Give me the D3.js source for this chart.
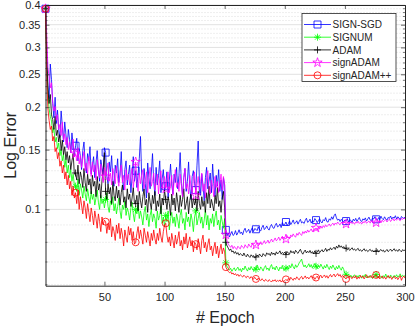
<!DOCTYPE html>
<html>
<head>
<meta charset="utf-8">
<script src="https://cdn.jsdelivr.net/npm/d3@7"></script>
<style>
  body { margin: 0; background: #fff; }
  text { font-family: "Liberation Sans", Arial, sans-serif; fill: #262626; }
</style>
</head>
<body>
<div id="chart"></div>
<script>
// Log error per epoch (1..300)
const signSGD = [
  0.390,0.300,0.232,0.212,0.268,0.241,0.205,0.186,0.214,0.179,
  0.196,0.171,0.163,0.195,0.176,0.158,0.181,0.166,0.152,0.172,
  0.161,0.147,0.168,0.155,0.143,0.154,0.162,0.139,0.151,0.144,
  0.131,0.149,0.158,0.136,0.128,0.146,0.139,0.153,0.127,0.135,
  0.143,0.124,0.137,0.149,0.131,0.121,0.140,0.133,0.126,0.152,
  0.147,0.125,0.119,0.138,0.129,0.144,0.122,0.117,0.135,0.128,
  0.141,0.120,0.126,0.148,0.123,0.114,0.131,0.139,0.118,0.127,
  0.135,0.112,0.124,0.143,0.121,0.130,0.116,0.127,0.141,0.164,
  0.126,0.113,0.132,0.119,0.108,0.137,0.124,0.115,0.128,0.146,
  0.121,0.110,0.133,0.118,0.126,0.139,0.112,0.123,0.131,0.114,
  0.117,0.129,0.108,0.122,0.136,0.118,0.111,0.127,0.120,0.133,
  0.115,0.126,0.147,0.119,0.109,0.124,0.132,0.113,0.121,0.138,
  0.116,0.107,0.125,0.130,0.119,0.114,0.135,0.159,0.122,0.110,
  0.127,0.118,0.106,0.124,0.133,0.115,0.121,0.128,0.112,0.136,
  0.119,0.109,0.126,0.117,0.131,0.113,0.122,0.107,0.124,0.118,
  0.0870,0.0835,0.0852,0.0829,0.0846,0.0861,0.0838,0.0844,0.0866,0.0840,
  0.0853,0.0871,0.0849,0.0858,0.0842,0.0867,0.0880,0.0856,0.0862,0.0874,
  0.0851,0.0869,0.0883,0.0860,0.0878,0.0874,0.0866,0.0889,0.0871,0.0864,
  0.0885,0.0898,0.0872,0.0880,0.0894,0.0877,0.0869,0.0891,0.0903,0.0884,
  0.0879,0.0897,0.0910,0.0888,0.0893,0.0906,0.0884,0.0915,0.0899,0.0903,
  0.0918,0.0896,0.0908,0.0924,0.0902,0.0915,0.0931,0.0907,0.0913,0.0926,
  0.0905,0.0921,0.0935,0.0912,0.0919,0.0909,0.0928,0.0942,0.0916,0.0922,
  0.0936,0.0911,0.0925,0.0918,0.0940,0.0930,0.0914,0.0927,0.0939,0.0920,
  0.0912,0.0933,0.0925,0.0946,0.0921,0.0917,0.0938,0.0929,0.0951,0.0935,
  0.0958,0.0970,0.0944,0.0929,0.0937,0.0921,0.0935,0.0926,0.0919,0.0931,
  0.0924,0.0940,0.0917,0.0932,0.0928,0.0915,0.0936,0.0925,0.0941,0.0922,
  0.0934,0.0947,0.0926,0.0921,0.0938,0.0930,0.0944,0.0924,0.0936,0.0949,
  0.0931,0.0925,0.0943,0.0937,0.0952,0.0935,0.0928,0.0946,0.0933,0.0955,
  0.0940,0.0932,0.0951,0.0938,0.0929,0.0947,0.0941,0.0956,0.0936,0.0949,
  0.0942,0.0958,0.0937,0.0951,0.0944,0.0931,0.0953,0.0946,0.0940,0.0950
];
const signum = [
  0.390,0.275,0.220,0.198,0.188,0.182,0.168,0.174,0.158,0.163,
  0.151,0.157,0.144,0.150,0.139,0.145,0.133,0.140,0.128,0.135,
  0.124,0.131,0.121,0.127,0.118,0.117,0.113,0.123,0.110,0.119,
  0.114,0.108,0.117,0.111,0.106,0.115,0.109,0.104,0.113,0.107,
  0.111,0.103,0.108,0.114,0.105,0.100,0.110,0.104,0.107,0.101,
  0.107,0.112,0.102,0.098,0.106,0.103,0.109,0.099,0.104,0.097,
  0.102,0.108,0.099,0.094,0.103,0.100,0.106,0.096,0.101,0.098,
  0.093,0.101,0.105,0.097,0.092,0.100,0.097,0.103,0.094,0.099,
  0.095,0.090,0.098,0.102,0.093,0.097,0.089,0.096,0.100,0.092,
  0.097,0.094,0.088,0.099,0.093,0.096,0.102,0.091,0.095,0.089,
  0.096,0.092,0.099,0.087,0.094,0.098,0.091,0.095,0.089,0.097,
  0.093,0.088,0.096,0.100,0.091,0.094,0.087,0.098,0.092,0.095,
  0.089,0.097,0.093,0.086,0.095,0.099,0.090,0.094,0.098,0.091,
  0.095,0.088,0.093,0.100,0.090,0.096,0.087,0.094,0.091,0.097,
  0.089,0.095,0.099,0.090,0.093,0.087,0.096,0.092,0.088,0.094,
  0.0696,0.0679,0.0670,0.0662,0.0671,0.0657,0.0666,0.0673,0.0659,0.0668,
  0.0676,0.0661,0.0669,0.0655,0.0672,0.0664,0.0681,0.0667,0.0658,0.0674,
  0.0663,0.0679,0.0668,0.0660,0.0675,0.0666,0.0686,0.0671,0.0662,0.0677,
  0.0669,0.0658,0.0674,0.0683,0.0665,0.0672,0.0660,0.0678,0.0688,0.0667,
  0.0675,0.0663,0.0681,0.0670,0.0659,0.0676,0.0668,0.0684,0.0664,0.0662,
  0.0671,0.0679,0.0666,0.0684,0.0673,0.0692,0.0678,0.0668,0.0687,0.0675,
  0.0683,0.0696,0.0704,0.0714,0.0690,0.0677,0.0686,0.0673,0.0681,0.0692,
  0.0676,0.0688,0.0671,0.0684,0.0693,0.0680,0.0669,0.0685,0.0674,0.0690,
  0.0678,0.0667,0.0683,0.0672,0.0689,0.0676,0.0665,0.0681,0.0670,0.0686,
  0.0674,0.0663,0.0679,0.0668,0.0684,0.0671,0.0662,0.0677,0.0666,0.0648,
  0.0644,0.0637,0.0643,0.0632,0.0640,0.0629,0.0636,0.0642,0.0631,0.0638,
  0.0630,0.0641,0.0634,0.0627,0.0639,0.0633,0.0644,0.0628,0.0636,0.0631,
  0.0640,0.0632,0.0626,0.0637,0.0631,0.0643,0.0635,0.0628,0.0639,0.0633,
  0.0627,0.0638,0.0632,0.0645,0.0630,0.0636,0.0629,0.0641,0.0634,0.0628,
  0.0639,0.0633,0.0642,0.0631,0.0637,0.0646,0.0632,0.0640,0.0635,0.0638
];
const adam = [
  0.390,0.285,0.226,0.205,0.218,0.190,0.184,0.172,0.188,0.165,
  0.171,0.158,0.166,0.149,0.160,0.145,0.153,0.140,0.148,0.137,
  0.144,0.131,0.139,0.146,0.127,0.128,0.122,0.135,0.119,0.129,
  0.124,0.116,0.132,0.120,0.113,0.127,0.118,0.123,0.111,0.126,
  0.117,0.121,0.109,0.125,0.114,0.119,0.108,0.122,0.131,0.147,
  0.113,0.107,0.119,0.111,0.116,0.104,0.121,0.110,0.106,0.117,
  0.108,0.114,0.103,0.112,0.118,0.105,0.109,0.101,0.115,0.107,
  0.111,0.102,0.108,0.116,0.104,0.104,0.110,0.099,0.113,0.106,
  0.101,0.109,0.115,0.103,0.107,0.098,0.112,0.105,0.100,0.110,
  0.104,0.113,0.099,0.106,0.102,0.111,0.097,0.108,0.103,0.114,
  0.107,0.100,0.109,0.104,0.096,0.111,0.103,0.108,0.099,0.112,
  0.105,0.098,0.110,0.102,0.107,0.115,0.100,0.104,0.109,0.097,
  0.106,0.111,0.101,0.108,0.103,0.107,0.099,0.113,0.104,0.100,
  0.109,0.102,0.106,0.098,0.112,0.104,0.117,0.101,0.107,0.103,
  0.099,0.110,0.104,0.116,0.102,0.106,0.098,0.108,0.113,0.101,
  0.0800,0.0781,0.0769,0.0757,0.0765,0.0749,0.0755,0.0742,0.0751,0.0738,
  0.0746,0.0733,0.0741,0.0736,0.0729,0.0744,0.0731,0.0725,0.0738,0.0728,
  0.0722,0.0735,0.0727,0.0731,0.0720,0.0724,0.0734,0.0726,0.0739,0.0730,
  0.0725,0.0741,0.0733,0.0728,0.0745,0.0736,0.0742,0.0731,0.0748,0.0737,
  0.0744,0.0733,0.0750,0.0739,0.0746,0.0755,0.0738,0.0747,0.0741,0.0749,
  0.0736,0.0751,0.0743,0.0739,0.0756,0.0745,0.0752,0.0740,0.0758,0.0748,
  0.0742,0.0754,0.0763,0.0747,0.0738,0.0750,0.0759,0.0744,0.0753,0.0746,
  0.0757,0.0743,0.0751,0.0740,0.0755,0.0742,0.0748,0.0760,0.0746,0.0754,
  0.0761,0.0749,0.0757,0.0768,0.0752,0.0763,0.0758,0.0771,0.0760,0.0767,
  0.0774,0.0762,0.0779,0.0769,0.0786,0.0773,0.0781,0.0770,0.0777,0.0765,
  0.0769,0.0760,0.0766,0.0757,0.0764,0.0771,0.0759,0.0765,0.0756,0.0762,
  0.0768,0.0755,0.0761,0.0752,0.0759,0.0766,0.0754,0.0760,0.0751,0.0757,
  0.0763,0.0753,0.0758,0.0749,0.0757,0.0752,0.0761,0.0750,0.0756,0.0762,
  0.0753,0.0759,0.0748,0.0755,0.0762,0.0751,0.0757,0.0764,0.0753,0.0758,
  0.0766,0.0754,0.0760,0.0752,0.0763,0.0757,0.0750,0.0761,0.0756,0.0759
];
const signAdam = [
  0.390,0.330,0.262,0.246,0.228,0.236,0.207,0.195,0.201,0.183,
  0.190,0.172,0.178,0.165,0.181,0.160,0.167,0.155,0.163,0.150,
  0.158,0.147,0.154,0.161,0.143,0.146,0.139,0.152,0.136,0.144,
  0.133,0.141,0.148,0.130,0.137,0.127,0.143,0.134,0.125,0.138,
  0.129,0.135,0.122,0.140,0.131,0.124,0.136,0.128,0.120,0.133,
  0.125,0.130,0.137,0.121,0.128,0.118,0.132,0.126,0.119,0.134,
  0.123,0.117,0.129,0.135,0.120,0.126,0.114,0.131,0.122,0.127,
  0.118,0.125,0.132,0.116,0.124,0.138,0.121,0.113,0.128,0.119,
  0.126,0.131,0.115,0.122,0.129,0.112,0.124,0.133,0.117,0.121,
  0.128,0.114,0.120,0.127,0.111,0.123,0.130,0.116,0.119,0.125,
  0.115,0.122,0.129,0.112,0.118,0.126,0.110,0.121,0.131,0.116,
  0.120,0.113,0.127,0.118,0.109,0.124,0.132,0.115,0.119,0.111,
  0.126,0.117,0.112,0.123,0.129,0.110,0.118,0.125,0.114,0.121,
  0.128,0.113,0.119,0.108,0.124,0.130,0.115,0.111,0.122,0.117,
  0.109,0.125,0.116,0.121,0.112,0.119,0.127,0.114,0.125,0.118,
  0.0842,0.0808,0.0790,0.0781,0.0773,0.0784,0.0766,0.0778,0.0770,0.0762,
  0.0779,0.0771,0.0765,0.0783,0.0774,0.0768,0.0787,0.0776,0.0770,0.0791,
  0.0780,0.0773,0.0794,0.0785,0.0778,0.0786,0.0798,0.0781,0.0792,0.0803,
  0.0787,0.0796,0.0809,0.0793,0.0800,0.0812,0.0795,0.0806,0.0818,0.0802,
  0.0811,0.0824,0.0808,0.0816,0.0829,0.0810,0.0821,0.0834,0.0815,0.0823,
  0.0818,0.0837,0.0826,0.0820,0.0841,0.0830,0.0847,0.0835,0.0828,0.0850,
  0.0839,0.0856,0.0845,0.0838,0.0860,0.0849,0.0863,0.0852,0.0870,0.0857,
  0.0866,0.0876,0.0860,0.0871,0.0870,0.0882,0.0868,0.0887,0.0875,0.0893,
  0.0880,0.0896,0.0885,0.0901,0.0889,0.0897,0.0906,0.0892,0.0903,0.0911,
  0.0898,0.0912,0.0904,0.0918,0.0907,0.0901,0.0915,0.0909,0.0920,0.0918,
  0.0906,0.0917,0.0902,0.0913,0.0921,0.0908,0.0916,0.0904,0.0919,0.0911,
  0.0923,0.0909,0.0917,0.0905,0.0920,0.0913,0.0926,0.0910,0.0918,0.0924,
  0.0911,0.0927,0.0916,0.0908,0.0922,0.0914,0.0929,0.0917,0.0925,0.0912,
  0.0930,0.0919,0.0926,0.0934,0.0918,0.0928,0.0936,0.0921,0.0931,0.0939,
  0.0925,0.0937,0.0929,0.0942,0.0933,0.0926,0.0940,0.0935,0.0944,0.0937
];
const signAdamPP = [
  0.390,0.245,0.198,0.183,0.172,0.176,0.159,0.164,0.148,0.152,
  0.141,0.147,0.134,0.139,0.128,0.135,0.123,0.129,0.118,0.126,
  0.115,0.121,0.110,0.117,0.108,0.112,0.104,0.114,0.100,0.109,
  0.103,0.097,0.106,0.101,0.094,0.104,0.098,0.092,0.101,0.096,
  0.090,0.099,0.094,0.088,0.097,0.092,0.086,0.095,0.090,0.093,
  0.092,0.085,0.091,0.087,0.094,0.083,0.089,0.086,0.081,0.090,
  0.085,0.091,0.082,0.088,0.084,0.078,0.087,0.083,0.080,0.089,
  0.084,0.088,0.081,0.086,0.079,0.080,0.085,0.089,0.082,0.087,
  0.083,0.079,0.088,0.084,0.080,0.086,0.082,0.078,0.085,0.081,
  0.087,0.082,0.079,0.085,0.081,0.088,0.083,0.080,0.086,0.090,
  0.091,0.084,0.080,0.083,0.078,0.085,0.081,0.077,0.084,0.079,
  0.082,0.086,0.078,0.081,0.076,0.083,0.079,0.085,0.077,0.080,
  0.083,0.078,0.081,0.075,0.080,0.079,0.076,0.082,0.078,0.074,
  0.081,0.084,0.077,0.080,0.075,0.079,0.082,0.076,0.078,0.073,
  0.077,0.080,0.074,0.078,0.072,0.076,0.079,0.074,0.077,0.075,
  0.0676,0.0665,0.0657,0.0651,0.0655,0.0645,0.0650,0.0641,0.0647,0.0638,
  0.0644,0.0635,0.0642,0.0637,0.0632,0.0640,0.0634,0.0629,0.0637,0.0631,
  0.0626,0.0634,0.0628,0.0623,0.0631,0.0624,0.0619,0.0628,0.0622,0.0617,
  0.0625,0.0620,0.0614,0.0622,0.0618,0.0613,0.0621,0.0616,0.0611,0.0619,
  0.0615,0.0621,0.0612,0.0618,0.0614,0.0620,0.0611,0.0617,0.0613,0.0617,
  0.0622,0.0616,0.0626,0.0619,0.0631,0.0624,0.0618,0.0628,0.0622,0.0633,
  0.0625,0.0620,0.0630,0.0635,0.0623,0.0629,0.0637,0.0626,0.0632,0.0624,
  0.0631,0.0638,0.0627,0.0633,0.0622,0.0630,0.0636,0.0625,0.0634,0.0640,
  0.0628,0.0635,0.0641,0.0630,0.0638,0.0627,0.0636,0.0643,0.0632,0.0639,
  0.0645,0.0633,0.0640,0.0647,0.0636,0.0643,0.0631,0.0639,0.0634,0.0628,
  0.0624,0.0633,0.0627,0.0637,0.0630,0.0625,0.0635,0.0628,0.0638,0.0623,
  0.0632,0.0626,0.0639,0.0630,0.0636,0.0624,0.0633,0.0642,0.0628,0.0635,
  0.0630,0.0638,0.0627,0.0634,0.0640,0.0641,0.0629,0.0636,0.0624,0.0631,
  0.0637,0.0626,0.0633,0.0623,0.0631,0.0639,0.0627,0.0634,0.0622,0.0630,
  0.0636,0.0625,0.0632,0.0621,0.0629,0.0638,0.0618,0.0630,0.0636,0.0627
];

const seriesNames = ['SIGN-SGD', 'SIGNUM', 'ADAM', 'signADAM', 'signADAM++'];
const seriesColors = ['#0000ff', '#00ff00', '#000000', '#ff00ff', '#ff0000'];
const seriesMarkers = ['square', 'asterisk', 'plus', 'star', 'circle'];
const markerEpochs = [1, 26, 51, 76, 101, 126, 151, 176, 201, 226, 251, 276];

const xTicks = [50, 100, 150, 200, 250, 300];
const yTicks = [0.1, 0.15, 0.2, 0.25, 0.3, 0.35, 0.4];
const yMinorTicks = [0.06, 0.07, 0.08, 0.09,
  0.11, 0.12, 0.13, 0.14, 0.16, 0.17, 0.18, 0.19,
  0.21, 0.22, 0.23, 0.24, 0.26, 0.27, 0.28, 0.29,
  0.31, 0.32, 0.33, 0.34, 0.36, 0.37, 0.38, 0.39];

const allSeries = [signSGD, signum, adam, signAdam, signAdamPP];

const W = 415, H = 327;
const margin = { top: 5, right: 10, bottom: 41.3, left: 45.5 };
const width = W - margin.left - margin.right;
const height = H - margin.top - margin.bottom;

const svg = d3.select('#chart').append('svg')
  .attr('width', W).attr('height', H);
const g = svg.append('g')
  .attr('transform', `translate(${margin.left},${margin.top})`);

const x = d3.scaleLinear().domain([1, 300]).range([0, width]);
const y = d3.scaleLog().domain([0.0596, 0.4]).range([height, 0]);

// grid: dotted minor, light solid major
g.append('g').selectAll('line').data(yMinorTicks).enter().append('line')
  .attr('x1', 0).attr('x2', width)
  .attr('y1', d => y(d)).attr('y2', d => y(d))
  .attr('stroke', '#c8c8c8').attr('stroke-width', 0.6)
  .attr('stroke-dasharray', '1,2');
g.append('g').selectAll('line').data(yTicks).enter().append('line')
  .attr('x1', 0).attr('x2', width)
  .attr('y1', d => y(d)).attr('y2', d => y(d))
  .attr('stroke', '#e2e2e2').attr('stroke-width', 1);

// marker shapes, centred on 0,0
function markerPath(type, s) {
  const h = s / 2;
  if (type === 'square') return `M${-h},${-h}H${h}V${h}H${-h}Z`;
  if (type === 'circle') return d3.symbol(d3.symbolCircle, Math.PI * h * h)();
  if (type === 'star') return d3.symbol(d3.symbolStar, s * s * 0.55)();
  if (type === 'plus') return `M${-h},0H${h}M0,${-h}V${h}`;
  const d = h * 0.72;
  return `M${-h},0H${h}M0,${-h}V${h}M${-d},${-d}L${d},${d}M${-d},${d}L${d},${-d}`;
}

const line = d3.line()
  .x((d, i) => x(i + 1))
  .y(d => y(d));

allSeries.forEach((vals, k) => {
  g.append('path')
    .datum(vals)
    .attr('fill', 'none')
    .attr('stroke', seriesColors[k])
    .attr('stroke-width', 0.8)
    .attr('stroke-linejoin', 'round')
    .attr('d', line);
  g.selectAll('.m' + k)
    .data(markerEpochs)
    .enter().append('path')
    .attr('transform', e => `translate(${x(e)},${y(vals[e - 1])})`)
    .attr('d', markerPath(seriesMarkers[k], 7))
    .attr('fill', 'none')
    .attr('stroke', seriesColors[k])
    .attr('stroke-width', 0.8);
});

// axes (box with inward ticks)
const axisColor = '#262626';
const xAxis = g.append('g').attr('transform', `translate(0,${height})`)
  .call(d3.axisBottom(x).tickValues(xTicks).tickSizeInner(-4).tickSizeOuter(0).tickPadding(8));
const xTop = g.append('g')
  .call(d3.axisTop(x).tickValues(xTicks).tickSizeInner(-4).tickSizeOuter(0).tickFormat(''));
const yAxis = g.append('g')
  .call(d3.axisLeft(y).tickValues(yTicks).tickFormat(d3.format('~g')).tickSizeInner(-4).tickSizeOuter(0).tickPadding(5));
const yRight = g.append('g').attr('transform', `translate(${width},0)`)
  .call(d3.axisRight(y).tickValues(yTicks).tickFormat('').tickSizeInner(-4).tickSizeOuter(0));
[yAxis, yRight].forEach((a, i) => {
  a.selectAll('.minor').data(yMinorTicks).enter().append('line')
    .attr('x1', 0).attr('x2', i === 0 ? 2 : -2)
    .attr('y1', d => y(d)).attr('y2', d => y(d))
    .attr('stroke', axisColor).attr('stroke-width', 0.6);
});
[xAxis, xTop, yAxis, yRight].forEach(a => {
  a.select('.domain').attr('stroke', axisColor).attr('stroke-width', 1);
  a.selectAll('.tick line').attr('stroke', axisColor).attr('stroke-width', 0.7);
  a.selectAll('text').style('font-size', '11px').attr('fill', axisColor);
});

// axis labels
g.append('text')
  .attr('x', width / 2).attr('y', height + 37)
  .attr('text-anchor', 'middle')
  .style('font-size', '16px')
  .text('# Epoch');
g.append('text')
  .attr('transform', 'rotate(-90)')
  .attr('x', -height * 0.5).attr('y', -margin.left + 16)
  .attr('text-anchor', 'middle')
  .style('font-size', '16px')
  .text('Log Error');

// legend
const leg = svg.append('g').attr('transform', 'translate(302,13.5)');
leg.append('rect')
  .attr('width', 94).attr('height', 68)
  .attr('fill', '#fff').attr('stroke', axisColor).attr('stroke-width', 0.8);
seriesNames.forEach((name, k) => {
  const yy = 11 + k * 12.7;
  leg.append('line')
    .attr('x1', 2).attr('x2', 29).attr('y1', yy).attr('y2', yy)
    .attr('stroke', seriesColors[k]).attr('stroke-width', 0.8);
  leg.append('path')
    .attr('transform', `translate(15.5,${yy})`)
    .attr('d', markerPath(seriesMarkers[k], 7))
    .attr('fill', 'none').attr('stroke', seriesColors[k]).attr('stroke-width', 0.8);
  leg.append('text')
    .attr('x', 30.5).attr('y', yy + 3.6)
    .style('font-size', '10px')
    .text(name);
});
</script>
</body>
</html>
